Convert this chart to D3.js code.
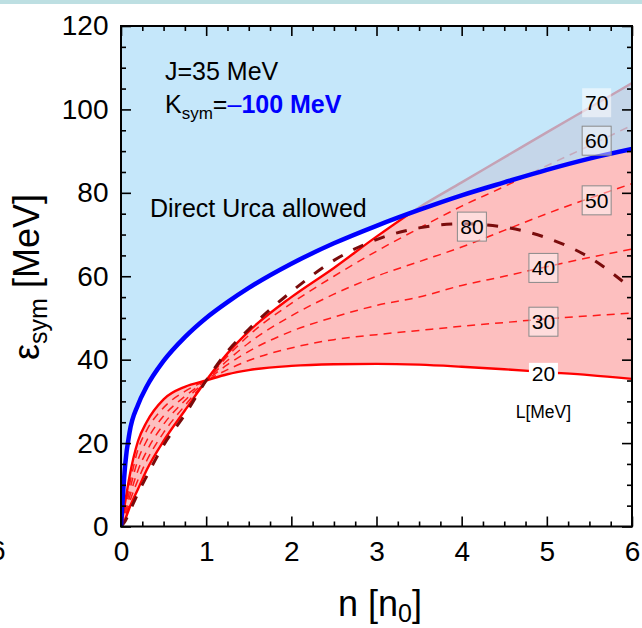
<!DOCTYPE html>
<html>
<head>
<meta charset="utf-8">
<script src="https://cdn.jsdelivr.net/npm/d3@7"></script>
<style>
  body { margin: 0; background: #fff; }
  svg { display: block; font-family: "Liberation Sans", Arial, sans-serif; }
</style>
</head>
<body>
<div id="chart"></div>
<script>
// density grid (n / n0) and symmetry energy curves
const density = [0, 0.05, 0.1, 0.2, 0.3, 0.5, 0.75, 1, 1.25, 1.5, 2, 2.5, 3, 3.5, 4, 4.5, 5, 5.5, 6];

const esymL20 = [0, 6, 12, 20.5, 25, 30.5, 33.5, 35, 36.5, 37.5, 38.5, 38.9, 39, 38.8, 38.3, 37.7, 37, 36.3, 35.4];
const esymL30 = [0, 5, 10, 18.5, 23, 28.5, 32.4, 35, 37.6, 39.8, 42.8, 44.8, 46, 47, 48, 48.9, 49.8, 50.5, 51.2];
const esymL40 = [0, 4, 8.5, 16, 20.5, 26.5, 31.2, 35, 38.8, 42, 46.8, 50.2, 53, 55, 57.8, 60, 62.3, 64.5, 66.5];
const esymL50 = [0, 3.2, 7, 13.5, 18, 24.5, 30.2, 35, 39.8, 44, 50.5, 55.7, 60, 63.5, 67, 71, 75, 78.7, 82.2];
const esymL60 = [0, 2.5, 5.8, 11.2, 15.7, 22.5, 29, 35, 40.8, 45.8, 53.5, 60, 66, 71.5, 76.8, 81.5, 86.5, 91.3, 96.2];
const esymL70 = [0, 1.8, 4.5, 9, 13.5, 20.5, 27.8, 35, 41.5, 46.8, 55, 62, 69.5, 76.5, 82.5, 88.5, 94.5, 100.4, 106.3];
const esymL80 = [0, 1.3, 3.5, 8, 12, 19.5, 26.8, 35, 42, 47.3, 56.3, 63.8, 68.8, 71.6, 72.6, 71.8, 69.2, 64.5, 57];

// direct Urca threshold
const esymDU = [0, 15, 22.5, 29.2, 33.5, 39.7, 45.4, 50, 53.8, 57.2, 63, 67.9, 72.1, 75.9, 79.4, 82.5, 85.5, 88.2, 90.5];

// L labels: text and anchor in data coords
const labelText = ["20", "30", "40", "50", "60", "70", "80"];
const labelN    = [4.96, 4.96, 4.96, 5.585, 5.585, 5.585, 4.12];
const labelE    = [36.6, 49.1, 62.0, 78.2, 92.5, 101.6, 71.9];

const xMajor = [0, 1, 2, 3, 4, 5, 6];
const yMajor = [0, 20, 40, 60, 80, 100, 120];

const width = 642, height = 628;

const svg = d3.select("#chart").append("svg")
    .attr("width", width)
    .attr("height", height);

const x = d3.scaleLinear().domain([0, 6]).range([121, 632]);
const y = d3.scaleLinear().domain([0, 120]).range([526.5, 26]);

// cropped header strip
svg.append("rect")
    .attr("x", 0).attr("y", 0)
    .attr("width", width).attr("height", 4)
    .attr("fill", "#bddfe2");

svg.append("clipPath").attr("id", "plot")
  .append("rect")
    .attr("x", x(0)).attr("y", y(120))
    .attr("width", x(6) - x(0)).attr("height", y(0) - y(120));

const plot = svg.append("g").attr("clip-path", "url(#plot)");

const line = vals => d3.line()
    .x((d, i) => x(density[i]))
    .y((d, i) => y(vals[i]))
    .curve(d3.curveMonotoneX)(vals);

// band between L=20 and L=70
plot.append("path")
    .attr("d", d3.area()
        .x((d, i) => x(density[i]))
        .y0((d, i) => y(esymL20[i]))
        .y1((d, i) => y(esymL70[i]))
        .curve(d3.curveMonotoneX)(density))
    .attr("fill", "#fdbfbf");

[esymL30, esymL40, esymL50, esymL60].forEach(vals => {
    plot.append("path")
        .attr("d", line(vals))
        .attr("fill", "none")
        .attr("stroke", "#ff1a1a")
        .attr("stroke-width", 1.5)
        .attr("stroke-dasharray", "8,6");
});

[esymL20, esymL70].forEach(vals => {
    plot.append("path")
        .attr("d", line(vals))
        .attr("fill", "none")
        .attr("stroke", "#ff0000")
        .attr("stroke-width", 2.4);
});

plot.append("path")
    .attr("d", line(esymL80))
    .attr("fill", "none")
    .attr("stroke", "#7a0c0c")
    .attr("stroke-width", 3)
    .attr("stroke-dasharray", "11,12");

// direct Urca allowed region
plot.append("path")
    .attr("d", d3.area()
        .x((d, i) => x(density[i]))
        .y0(y(120))
        .y1((d, i) => y(esymDU[i]))
        .curve(d3.curveMonotoneX)(density))
    .attr("fill", "rgb(175,222,248)")
    .attr("fill-opacity", 0.73);

plot.append("path")
    .attr("d", line(esymDU))
    .attr("fill", "none")
    .attr("stroke", "#0000ff")
    .attr("stroke-width", 4.5);

// axes, ticks pointing inward on all four sides
const minorX = d3.range(0, 6.01, 0.25).filter(v => v % 1 !== 0);
const minorY = d3.range(0, 120.1, 5).filter(v => v % 20 !== 0);

function ticks(axis, major, minor, transform, labels, pad) {
    const g = svg.append("g").attr("transform", transform);
    g.call(axis.tickValues(minor).tickSize(-5).tickSizeOuter(0).tickFormat(""));
    const g2 = svg.append("g").attr("transform", transform);
    g2.call(axis.tickValues(major).tickSize(-10).tickSizeOuter(0)
        .tickPadding(pad).tickFormat(labels ? d3.format("d") : ""));
    [g, g2].forEach(s => {
        s.select(".domain").remove();
        s.selectAll("line").attr("stroke", "#000").attr("stroke-width", 1.6);
    });
    g2.selectAll("text")
        .attr("font-size", 28)
        .attr("font-family", "'Liberation Sans', Arial, sans-serif")
        .attr("fill", "#000");
    return g2;
}

ticks(d3.axisBottom(x), xMajor, minorX, `translate(0,${y(0)})`, true, 14.5);
ticks(d3.axisTop(x), xMajor, minorX, `translate(0,${y(120)})`, false, 3);
ticks(d3.axisLeft(y), yMajor, minorY, `translate(${x(0)},0)`, true, 12.5);
ticks(d3.axisRight(y), yMajor, minorY, `translate(${x(6)},0)`, false, 3);

svg.append("rect")
    .attr("x", x(0)).attr("y", y(120))
    .attr("width", x(6) - x(0)).attr("height", y(0) - y(120))
    .attr("fill", "none")
    .attr("stroke", "#000")
    .attr("stroke-width", 2);

// L labels
labelText.forEach((t, i) => {
    const cx = x(labelN[i]), cy = y(labelE[i]);
    const box = svg.append("rect")
        .attr("x", cx - 14.5).attr("width", 29)
        .attr("y", cy - 14.5).attr("height", 29);
    if (t === "20") {
        box.attr("y", cy - 11).attr("height", 22).attr("fill", "#fff");
    } else if (t === "70") {
        box.attr("fill", "#fff").attr("fill-opacity", 0.55);
    } else {
        box.attr("fill", "#fff").attr("fill-opacity", 0.45)
            .attr("stroke", "#8a8a8a").attr("stroke-width", 1);
    }
    svg.append("text")
        .attr("x", cx).attr("y", cy + 7.5)
        .attr("text-anchor", "middle")
        .attr("font-size", 21)
        .text(t);
});

svg.append("text")
    .attr("x", x(4.96)).attr("y", y(27.5) + 6.5)
    .attr("text-anchor", "middle")
    .attr("font-size", 17.5)
    .text("L[MeV]");

// annotations
svg.append("text")
    .attr("x", 165).attr("y", 80)
    .attr("font-size", 25)
    .text("J=35 MeV");

const k = svg.append("text")
    .attr("x", 165).attr("y", 113)
    .attr("font-size", 25);
k.append("tspan").text("K");
k.append("tspan").attr("font-size", 17).attr("dy", 6).text("sym");
k.append("tspan").attr("dy", -6).text("=");
k.append("tspan").attr("fill", "#0000ff").text("\u2013");
k.append("tspan").attr("fill", "#0000ff").attr("font-weight", "bold").text("100 MeV");

svg.append("text")
    .attr("x", 150).attr("y", 217)
    .attr("font-size", 25)
    .text("Direct Urca allowed");

// axis titles
const yt = svg.append("text")
    .attr("transform", "translate(39,277) rotate(-90)")
    .attr("text-anchor", "middle")
    .attr("font-size", 36);
yt.append("tspan").text("\u03b5");
yt.append("tspan").attr("font-size", 25).attr("dy", 8).text("sym");
yt.append("tspan").attr("dy", -8).text(" [MeV]");

const xt = svg.append("text")
    .attr("x", 380).attr("y", 616)
    .attr("text-anchor", "middle")
    .attr("font-size", 36);
xt.append("tspan").text("n [n");
xt.append("tspan").attr("font-size", 25).attr("dy", 6).text("0");
xt.append("tspan").attr("dy", -6).text("]");

// edge of the neighbouring panel's tick label
svg.append("text")
    .attr("x", -10).attr("y", 560)
    .attr("font-size", 28)
    .text("6");
</script>
</body>
</html>
